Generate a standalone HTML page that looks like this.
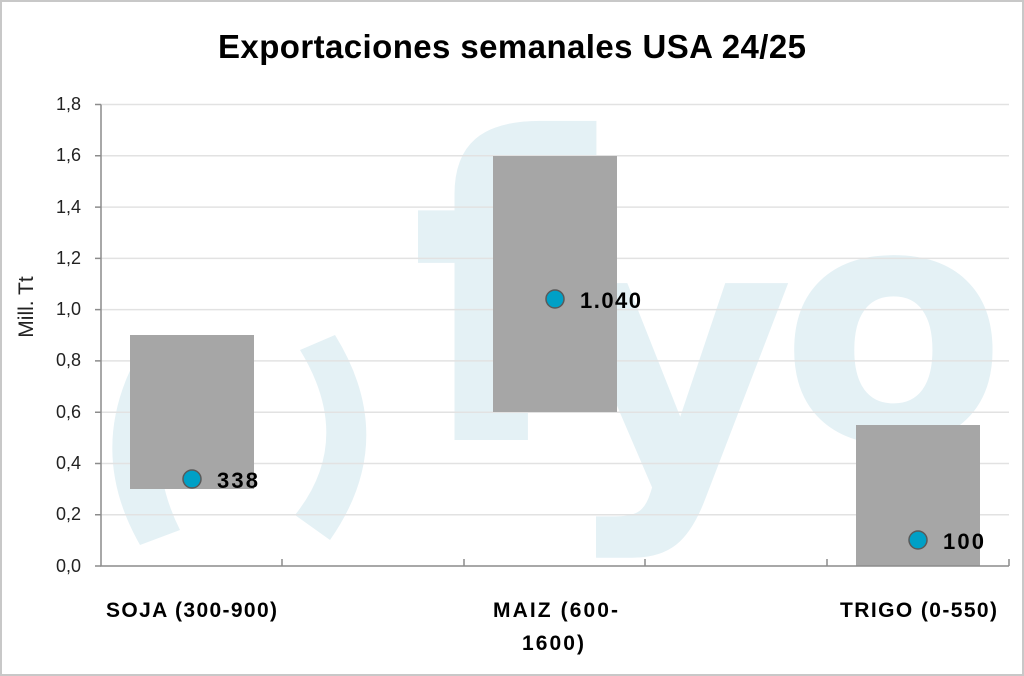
<!DOCTYPE html>
<html><head><style>body{margin:0;background:#fff}svg{display:block}</style></head><body>
<svg width="1024" height="676" xmlns="http://www.w3.org/2000/svg" font-family="'Liberation Sans',sans-serif">
<rect x="1" y="1" width="1022" height="674" fill="#fff" stroke="#c8c8c8" stroke-width="2"/>
<g fill="#e4f1f5">
<path d="M150 335 Q80 440 140 545 L180 530 Q135 440 190 350 Z"/>
<path d="M300 350 Q355 440 295 515 L330 540 Q400 440 335 335 Z"/>
<text x="410" y="440" font-size="420" font-weight="bold" font-family="'DejaVu Sans',sans-serif">f</text>
<text x="560" y="480" font-size="360" font-weight="bold" font-family="'DejaVu Sans',sans-serif">y</text>
<text x="780" y="440" font-size="330" font-weight="bold" font-family="'DejaVu Sans',sans-serif">o</text>
</g>
<g stroke="#e2e2e2" stroke-width="1.5">
<line x1="101" x2="1009" y1="104.5" y2="104.5"/><line x1="101" x2="1009" y1="155.8" y2="155.8"/>
<line x1="101" x2="1009" y1="207.1" y2="207.1"/><line x1="101" x2="1009" y1="258.4" y2="258.4"/>
<line x1="101" x2="1009" y1="309.6" y2="309.6"/><line x1="101" x2="1009" y1="360.9" y2="360.9"/>
<line x1="101" x2="1009" y1="412.2" y2="412.2"/><line x1="101" x2="1009" y1="463.5" y2="463.5"/>
<line x1="101" x2="1009" y1="514.7" y2="514.7"/>
</g>
<g fill="#a6a6a6">
<rect x="130" y="335" width="124" height="154"/>
<rect x="493" y="156" width="124" height="256"/>
<rect x="856" y="425" width="124" height="141"/>
</g>
<g stroke="#8c8c8c" stroke-width="1.5" fill="none">
<path d="M101 104.5 V566 H1009"/>
<path d="M95 104.5h6M95 155.8h6M95 207.1h6M95 258.4h6M95 309.6h6M95 360.9h6M95 412.2h6M95 463.5h6M95 514.7h6M95 566h6"/>
<path d="M282 566v-7M464 566v-7M645 566v-7M827 566v-7M1009 566v-7"/>
</g>
<g fill="#00a0c6" stroke="#5a5a5a" stroke-width="1.5">
<circle cx="192" cy="479" r="9"/><circle cx="555" cy="299" r="9"/><circle cx="918" cy="540" r="9"/>
</g>
<g font-size="22" font-weight="bold" fill="#000">
<text x="217" y="488" textLength="41">338</text><text x="580" y="308" textLength="61">1.040</text><text x="943" y="549" textLength="41">100</text>
</g>
<g font-size="18" fill="#222" text-anchor="end">
<text x="81" y="110">1,8</text><text x="81" y="161">1,6</text><text x="81" y="213">1,4</text>
<text x="81" y="264">1,2</text><text x="81" y="315">1,0</text><text x="81" y="366">0,8</text>
<text x="81" y="418">0,6</text><text x="81" y="469">0,4</text><text x="81" y="520">0,2</text><text x="81" y="572">0,0</text>
</g>
<text transform="translate(33,307) rotate(-90)" font-size="21" text-anchor="middle" fill="#222">Mill. Tt</text>
<text x="218" y="58" font-size="33" font-weight="bold" textLength="588">Exportaciones semanales USA 24/25</text>
<g font-size="21" font-weight="bold">
<text x="106" y="617" textLength="171">SOJA (300-900)</text>
<text x="493" y="617" textLength="125">MAIZ (600-</text><text x="522" y="650" textLength="62">1600)</text>
<text x="840" y="617" textLength="157">TRIGO (0-550)</text>
</g>
</svg>
</body></html>
